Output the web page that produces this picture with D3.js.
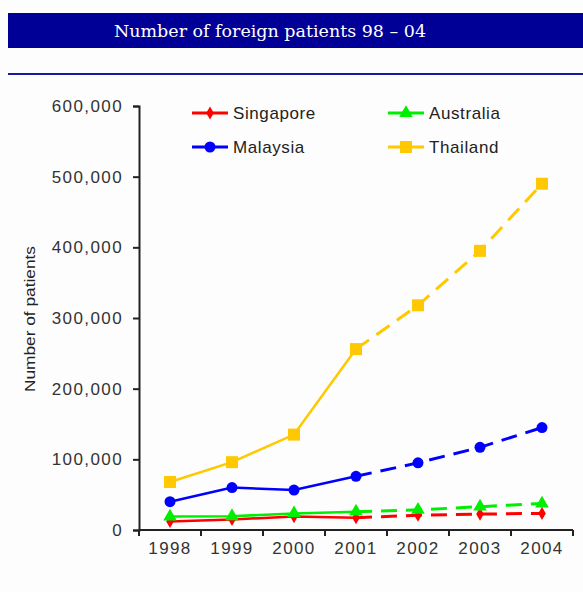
<!DOCTYPE html>
<html>
<head>
<meta charset="utf-8">
<script src="https://cdn.jsdelivr.net/npm/d3@7"></script>
<style>
  html, body { margin: 0; padding: 0; background: #fdfdfd; }
  svg { display: block; }
</style>
</head>
<body>
<script>
// ---- data ----
const years = ["1998", "1999", "2000", "2001", "2002", "2003", "2004"];
const singapore = [12000, 15000, 19000, 17500, 21000, 22500, 23500];
const malaysia  = [40000, 60000, 56500, 76000, 95000, 117000, 145000];
const australia = [19000, 19500, 23500, 26000, 28500, 33000, 37500];
const thailand  = [68000, 96000, 135000, 256000, 318000, 395000, 490000];
const yTicks = [0, 100000, 200000, 300000, 400000, 500000, 600000];
const dashFromYear = "2001";
const titleText = "Number of foreign patients 98 \u2013 04";
const yAxisTitle = "Number of patients";

const series = [
  { name: "Singapore", values: singapore, color: "#ff0000", marker: "diamond" },
  { name: "Malaysia",  values: malaysia,  color: "#0000ff", marker: "circle" },
  { name: "Australia", values: australia, color: "#00ee00", marker: "triangle" },
  { name: "Thailand",  values: thailand,  color: "#ffc800", marker: "square" }
];

(function () {
// ---- layout ----
const W = 583, H = 592;
const svg = d3.select("body").append("svg").attr("width", W).attr("height", H);
svg.append("rect").attr("width", W).attr("height", H).attr("fill", "#fdfdfd");

// title bar
svg.append("rect").attr("x", 8).attr("y", 13).attr("width", W - 8).attr("height", 35).attr("fill", "#000096");
svg.append("text").attr("x", 270).attr("y", 37).attr("text-anchor", "middle")
  .attr("font-family", "DejaVu Serif, serif").attr("font-size", 17).attr("fill", "#ffffff")
  .attr("textLength", 312).attr("lengthAdjust", "spacingAndGlyphs")
  .text(titleText);
svg.append("rect").attr("x", 8).attr("y", 73).attr("width", W - 8).attr("height", 2).attr("fill", "#1a1aa0");

const pLeft = 139, pRight = 573, pTop = 106, pBottom = 530;
const x = d3.scaleBand().domain(years).range([pLeft, pRight]);
const y = d3.scaleLinear().domain([0, 600000]).range([pBottom, pTop]);

const font = "Liberation Sans, Arial, sans-serif";

// y axis
const yAxis = svg.append("g").attr("transform", `translate(${pLeft},0)`)
  .call(d3.axisLeft(y).tickValues(yTicks).tickFormat(d3.format(",")).tickSize(6).tickPadding(10));
yAxis.select(".domain").attr("stroke", "#222").attr("stroke-width", 2);
yAxis.selectAll(".tick line").attr("stroke", "#222").attr("stroke-width", 2);
yAxis.selectAll("text").attr("font-family", font).attr("font-size", 17)
  .attr("letter-spacing", 1.4).attr("fill", "#333");

// x axis
const xAxis = svg.append("g").attr("transform", `translate(0,${pBottom})`)
  .call(d3.axisBottom(x).tickSize(0).tickPadding(12));
xAxis.select(".domain").attr("stroke", "#222").attr("stroke-width", 2)
  .attr("d", `M${pLeft},0H${pRight}`);
xAxis.selectAll(".tick line").remove();
xAxis.selectAll("text").attr("font-family", font).attr("font-size", 17)
  .attr("letter-spacing", 1.4).attr("fill", "#333");
// boundary tick marks
const bounds = years.map(d => x(d)).concat([x(years[years.length - 1]) + x.bandwidth()]);
xAxis.selectAll("line.bt").data(bounds).join("line").attr("class", "bt")
  .attr("x1", d => d).attr("x2", d => d).attr("y1", 0).attr("y2", 6)
  .attr("stroke", "#222").attr("stroke-width", 2);

// y axis title
svg.append("text").attr("transform", `translate(35,319) rotate(-90)`)
  .attr("text-anchor", "middle").attr("font-family", font).attr("font-size", 15.5)
  .attr("fill", "#222").attr("textLength", 146).attr("lengthAdjust", "spacingAndGlyphs")
  .text(yAxisTitle);

const cx = d => x(d) + x.bandwidth() / 2;
const dashIdx = years.indexOf(dashFromYear);

function drawMarker(g, type, px, py, color) {
  if (type === "circle") {
    g.append("circle").attr("cx", px).attr("cy", py).attr("r", 5.5).attr("fill", color);
  } else if (type === "square") {
    g.append("rect").attr("x", px - 6).attr("y", py - 6).attr("width", 12).attr("height", 12).attr("fill", color);
  } else if (type === "triangle") {
    g.append("path").attr("d", d3.symbol(d3.symbolTriangle, 80)()).attr("transform", `translate(${px},${py})`).attr("fill", color);
  } else {
    g.append("path").attr("d", d3.symbol(d3.symbolDiamond, 50)()).attr("transform", `translate(${px},${py})`).attr("fill", color);
  }
}

const line = d3.line().x(d => cx(d.year)).y(d => y(d.v));
const plot = svg.append("g");
series.forEach(s => {
  const pts = years.map((yr, i) => ({ year: yr, v: s.values[i] }));
  plot.append("path").attr("d", line(pts.slice(0, dashIdx + 1)))
    .attr("fill", "none").attr("stroke", s.color).attr("stroke-width", 2.5);
  plot.append("path").attr("d", line(pts.slice(dashIdx)))
    .attr("fill", "none").attr("stroke", s.color).attr("stroke-width", 3)
    .attr("stroke-dasharray", "16,9");
});
series.forEach(s => {
  const g = plot.append("g");
  years.forEach((yr, i) => drawMarker(g, s.marker, cx(yr), y(s.values[i]), s.color));
});

// legend
const legendPos = [[192, 113], [192, 147], [388, 113], [388, 147]];
series.forEach((s, i) => {
  const [lx, ly] = legendPos[i];
  const g = svg.append("g");
  g.append("line").attr("x1", lx).attr("x2", lx + 36).attr("y1", ly).attr("y2", ly)
    .attr("stroke", s.color).attr("stroke-width", 3);
  drawMarker(g, s.marker, lx + 18, ly, s.color);
  g.append("text").attr("x", lx + 41).attr("y", ly + 6).attr("font-family", font)
    .attr("font-size", 17).attr("letter-spacing", 0.6).attr("fill", "#222").text(s.name);
});
})();
</script>
</body>
</html>
